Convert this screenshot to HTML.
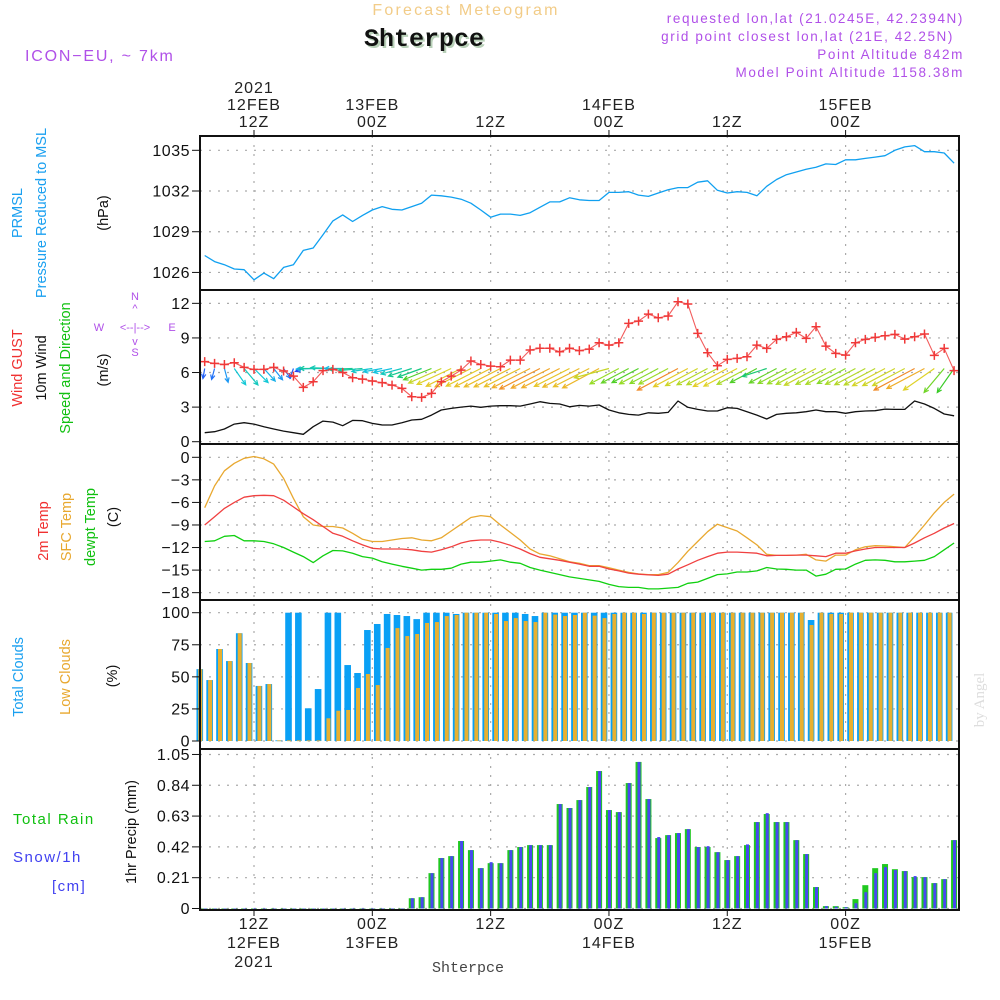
<!DOCTYPE html>
<html><head><meta charset="utf-8"><style>
html,body{margin:0;padding:0;background:#fff;}
svg{display:block;}
text{font-family:"Liberation Sans",sans-serif;}
</style></head><body>
<svg id="chart" width="1000" height="1000" viewBox="0 0 1000 1000" xmlns="http://www.w3.org/2000/svg">
<rect x="0" y="0" width="1000" height="1000" fill="#fff"/>
<text x="466" y="15" text-anchor="middle" font-size="16" fill="#f2cc88" letter-spacing="2.2">Forecast Meteogram</text>
<text x="426" y="48" text-anchor="middle" style="font-family:'Liberation Mono',monospace;font-weight:bold;font-size:25px" fill="#b8d0b8">Shterpce</text>
<text x="424" y="46" text-anchor="middle" style="font-family:'Liberation Mono',monospace;font-weight:bold;font-size:25px" fill="#111">Shterpce</text>
<text x="25" y="61" font-size="16" fill="#b050e8" letter-spacing="1.8">ICON−EU, ~ 7km</text>
<g font-size="13.5" fill="#b050e8" text-anchor="end" letter-spacing="1.6">
<text x="964" y="23">requested lon,lat (21.0245E, 42.2394N)</text>
<text x="954" y="41">grid point closest lon,lat (21E, 42.25N)</text>
<text x="964" y="59">Point Altitude 842m</text>
<text x="964" y="77">Model Point Altitude 1158.38m</text>
</g>
<g id="grid"></g>
<g id="marks"></g>
<g id="axes"></g>
<g font-size="14.5">
<text transform="translate(22,213) rotate(-90)" text-anchor="middle" fill="#1aa0f0">PRMSL</text>
<text transform="translate(46,213) rotate(-90)" text-anchor="middle" fill="#1aa0f0">Pressure Reduced to MSL</text>
<text transform="translate(108,213) rotate(-90)" text-anchor="middle" fill="#111">(hPa)</text>
<text transform="translate(22,368) rotate(-90)" text-anchor="middle" fill="#f03030">Wind GUST</text>
<text transform="translate(46,368) rotate(-90)" text-anchor="middle" fill="#111">10m Wind</text>
<text transform="translate(70,368) rotate(-90)" text-anchor="middle" fill="#10c010">Speed and Direction</text>
<text transform="translate(108,370) rotate(-90)" text-anchor="middle" fill="#111">(m/s)</text>
<text transform="translate(48,531) rotate(-90)" text-anchor="middle" fill="#f03030">2m Temp</text>
<text transform="translate(71,527) rotate(-90)" text-anchor="middle" fill="#e8a830">SFC Temp</text>
<text transform="translate(95,527) rotate(-90)" text-anchor="middle" fill="#10c010">dewpt Temp</text>
<text transform="translate(118,517) rotate(-90)" text-anchor="middle" fill="#111">(C)</text>
<text transform="translate(23,677) rotate(-90)" text-anchor="middle" fill="#1aa0f0">Total Clouds</text>
<text transform="translate(70,677) rotate(-90)" text-anchor="middle" fill="#e8a830">Low Clouds</text>
<text transform="translate(117,676) rotate(-90)" text-anchor="middle" fill="#111">(%)</text>
<text transform="translate(136,832) rotate(-90)" text-anchor="middle" fill="#111">1hr Precip (mm)</text>
</g>
<g font-size="15" letter-spacing="1.5">
<text x="13" y="824" fill="#10c010">Total  Rain</text>
<text x="13" y="862" fill="#4040f0">Snow/1h</text>
<text x="52" y="891" fill="#4040f0">[cm]</text>
</g>
<g font-size="11" fill="#b050e8" text-anchor="middle">
<text x="135" y="300">N</text>
<text x="135" y="312">^</text>
<text x="135" y="331">&lt;--|--&gt;</text>
<text x="99" y="331">W</text>
<text x="172" y="331">E</text>
<text x="135" y="345">v</text>
<text x="135" y="356">S</text>
</g>
<text transform="translate(984,700) rotate(-90)" text-anchor="middle" style="font-family:'Liberation Serif',serif;font-size:15px" fill="#dddddd">by Angel</text>
<text x="468" y="972" text-anchor="middle" style="font-family:'Liberation Mono',monospace;font-size:15px" fill="#444">Shterpce</text>
</svg>
<script>
const hourStart = -5;
const pressure = [1027.25,1026.8,1026.57,1026.25,1026.2,1025.46,1025.95,1025.54,1026.37,1026.57,1027.62,1027.8,1028.77,1029.8,1030.24,1029.75,1030.2,1030.6,1030.85,1030.65,1030.6,1030.85,1031.1,1031.7,1031.65,1031.55,1031.4,1031.1,1030.6,1030.07,1030.3,1030.3,1030.2,1030.4,1030.8,1031.2,1031.2,1031.5,1031.35,1031.3,
1031.3,1031.9,1031.9,1031.95,1031.7,1031.6,1031.85,1032.1,1032.25,1032.25,1032.65,1032.75,1032.05,1031.85,1031.95,1031.9,1031.65,1032.35,1032.85,1033.2,1033.4,1033.6,1033.75,1034,1033.95,1034.3,1034.3,1034.4,1034.5,1034.6,1035,1035.25,1035.35,1034.9,1034.9,1034.8,1034.05];
const windGust = [6.94,6.79,6.7,6.85,6.45,6.27,6.27,6.45,6.13,5.69,4.71,5.2,6.16,6.27,6.0,5.55,5.43,5.26,5.12,4.91,4.62,3.9,3.84,4.19,5.2,5.69,6.21,7.0,6.7,6.56,6.5,7.08,7.08,7.95,8.1,8.1,7.8,8.1,7.9,8.03,
8.58,8.38,8.58,10.26,10.46,11.07,10.75,10.9,12.14,11.94,9.39,7.72,6.59,7.14,7.23,7.37,8.38,8.09,8.87,9.1,9.48,8.96,9.97,8.29,7.66,7.51,8.58,8.87,9.05,9.19,9.31,8.9,9.1,9.34,7.49,8.09,6.16];
const wind10m = [0.78,0.87,1.1,1.53,1.65,1.53,1.3,1.1,0.92,0.78,0.64,1.3,1.79,1.7,1.39,1.85,1.82,1.59,1.45,1.45,1.65,1.88,1.94,2.31,2.75,2.89,3.0,3.09,2.98,3.09,3.12,3.12,3.09,3.27,3.47,3.32,3.27,3.03,3.15,3.09,
3.18,2.75,2.51,2.37,2.31,2.51,2.46,2.54,3.53,2.98,2.8,2.66,2.66,2.95,2.89,2.6,2.31,1.97,2.37,2.46,2.51,2.6,2.75,2.6,2.6,2.46,2.6,2.66,2.69,2.83,2.8,2.8,3.53,3.27,2.89,2.4,2.25];
const windDir = [10,15,345,325,320,315,318,322,325,20,70,88,90,92,90,88,85,82,80,78,75,72,70,68,66,65,63,63,63,63,63,63,63,63,63,63,63,63,63,63,
62,75,62,62,62,62,62,62,62,62,62,62,62,62,62,62,62,72,62,62,62,62,62,62,62,62,62,62,62,62,62,62,62,62,55,40,35];
const temp2m = [-9.0,-7.9,-6.8,-6.0,-5.3,-5.1,-5.05,-5.1,-5.7,-6.6,-7.5,-8.3,-9.2,-10.1,-10.5,-11.1,-11.65,-12.1,-12.2,-12.2,-12.2,-12.3,-12.5,-12.6,-12.3,-11.9,-11.4,-11.1,-11.0,-11.0,-11.3,-11.7,-12.2,-12.8,-13.3,-13.5,-13.7,-13.95,-14.2,-14.5,
-14.5,-14.85,-15.1,-15.4,-15.55,-15.64,-15.7,-15.55,-14.85,-14.3,-13.7,-13.2,-12.75,-12.6,-12.6,-12.67,-12.75,-13.1,-13.05,-13.05,-13.0,-13.0,-13.1,-13.2,-12.75,-12.75,-12.45,-12.2,-12.0,-12.0,-12.0,-12.0,-11.4,-10.7,-10.1,-9.4,-8.8];
const tempSfc = [-6.7,-3.8,-1.8,-0.8,-0.13,0.1,-0.2,-0.9,-2.8,-5.45,-7.9,-9.0,-9.2,-9.2,-9.4,-10.1,-10.9,-11.2,-11.2,-11.0,-10.8,-10.7,-11.0,-11.1,-10.7,-9.8,-8.9,-8.0,-7.75,-7.9,-9.0,-10.0,-11.0,-12.2,-12.85,-13.1,-13.5,-13.9,-14.1,-14.4,
-14.4,-14.7,-15.0,-15.3,-15.5,-15.6,-15.6,-15.3,-14.0,-12.5,-11.2,-9.9,-8.9,-9.35,-9.8,-10.7,-11.65,-12.9,-13.05,-13.05,-13.0,-12.9,-13.65,-13.8,-13.0,-13.0,-12.3,-11.9,-11.75,-11.8,-11.9,-12.0,-10.55,-9.0,-7.4,-6.0,-4.9];
const tempDew = [-11.2,-11.1,-10.5,-10.4,-11.1,-11.1,-11.2,-11.5,-12.0,-12.6,-13.2,-14.0,-13.1,-12.4,-12.45,-12.75,-13.2,-13.4,-13.9,-14.2,-14.5,-14.75,-15.0,-14.9,-14.9,-14.75,-14.2,-13.95,-13.95,-13.8,-13.65,-13.95,-14.1,-14.65,-15.0,-15.3,-15.6,-15.9,-16.1,-16.3,
-16.5,-16.9,-17.2,-17.3,-17.3,-17.5,-17.5,-17.4,-17.3,-16.75,-16.6,-16.1,-15.6,-15.5,-15.25,-15.25,-15.1,-14.65,-14.85,-14.9,-15.0,-15.0,-15.8,-15.55,-14.9,-14.85,-14.2,-13.7,-13.65,-13.7,-13.9,-13.9,-13.8,-13.7,-13.2,-12.3,-11.4];
const totalClouds = [56,47.5,71.7,62.3,84,60.8,42.9,44.4,0.5,100,100,25.5,40.5,100,100,59.2,53,86.5,91.2,99,98.2,97.4,95,100,100,100,99,100,100,100,100,100,100,99,97.4,100,100,100,100,100,
100,100,100,100,100,100,100,100,100,100,100,100,100,100,100,100,100,100,100,100,100,100,94.3,100,100,100,100,100,100,100,100,100,100,100,100,100,100];
const lowClouds = [56,47.5,71.7,62.3,84,60.8,42.9,44.4,0.5,0.5,0.5,0.5,0.5,17.7,23.6,24.2,41.3,52.2,43.6,72.5,88,81.8,83.4,92,92.7,97.4,98.2,100,100,100,99,93.5,95.8,93.5,92.7,100,98.5,97.4,98.2,100,
97.7,95.8,99,100,100,99,100,100,100,100,100,100,100,100,100,100,100,100,100,100,100,100,90.4,100,99,99,100,100,100,100,100,100,100,100,100,100,100];
const totalRain = [0,0,0,0,0,0,0,0,0,0,0,0,0,0,0,0,0,0,0,0,0,
0.07,0.077,0.241,0.344,0.357,0.46,0.398,0.275,0.309,0.309,0.398,0.419,0.432,0.432,0.432,0.712,0.685,0.739,0.828,0.937,0.671,0.657,0.855,0.999,0.746,0.48,0.5,0.514,0.541,0.419,0.419,0.384,0.33,0.357,0.432,0.589,0.644,0.589,0.589,0.466,0.371,0.146,0.016,0.016,0.009,0.064,0.159,0.275,0.303,0.268,0.255,0.214,0.214,0.173,0.2,0.466];
const snow1h = [0,0,0,0,0,0,0,0,0,0,0,0,0,0,0,0,0,0,0,0,0,
0.07,0.077,0.241,0.344,0.357,0.46,0.398,0.275,0.316,0.309,0.398,0.419,0.432,0.432,0.432,0.712,0.685,0.739,0.828,0.937,0.671,0.657,0.855,0.999,0.746,0.487,0.5,0.514,0.541,0.419,0.425,0.384,0.33,0.357,0.437,0.589,0.65,0.589,0.589,0.466,0.371,0.146,0.016,0.012,0.009,0.036,0.111,0.241,0.282,0.262,0.255,0.221,0.214,0.173,0.2,0.466];
const pressureTicks = [1026,1029,1032,1035];
const windTicks = [0,3,6,9,12];
const tempTicks = [0,-3,-6,-9,-12,-15,-18];
const cloudTicks = [0,25,50,75,100];
const precipTicks = ["0","0.21","0.42","0.63","0.84","1.05"];
const timeTickHours = [0,12,24,36,48,60];
const topLabels = [["2021","12FEB","12Z"],["","13FEB","00Z"],["","","12Z"],["","14FEB","00Z"],["","","12Z"],["","15FEB","00Z"]];
const bottomLabels = [["12Z","12FEB","2021"],["00Z","13FEB",""],["12Z","",""],["00Z","14FEB",""],["12Z","",""],["00Z","15FEB",""]];

const L=200, R=959;
const X = h => 254 + 9.86*h;
const yP = p => 150.3 + (1035-p)*13.57;
const yW = s => 441.7 - s*11.53;
const yT = t => 457.3 - t*7.52;
const yC = c => 741 - c*1.283;
const yR = r => 908.5 - r*146.7;
const NS='http://www.w3.org/2000/svg';
const grid=document.getElementById('grid'), marks=document.getElementById('marks'), axes=document.getElementById('axes');
function mk(parent,tag,attrs,txt){const e=document.createElementNS(NS,tag);for(const k in attrs)e.setAttribute(k,attrs[k]);if(txt!==undefined)e.textContent=txt;parent.appendChild(e);return e;}
const hours = pressure.map((_,i)=>hourStart+i);

const panels=[{ticks:pressureTicks,y:yP,lab:v=>String(v)},
{ticks:windTicks,y:yW,lab:v=>String(v)},
{ticks:tempTicks,y:yT,lab:v=>String(v).replace('-','\u2212')},
{ticks:cloudTicks,y:yC,lab:v=>String(v)},
{ticks:precipTicks,y:v=>yR(parseFloat(v)),lab:v=>v}];
panels.forEach(p=>{
  p.ticks.forEach(v=>{
    const y=p.y(v);
    const g=mk(grid,'line',{x1:L,x2:R,y1:y,y2:y,stroke:'#aaa','stroke-width':1.2,'stroke-dasharray':'2,7'});
    
    
    const tk=mk(axes,'line',{x1:L-8,x2:L,y1:y,y2:y,stroke:'#111','stroke-width':1});
    
    
    const t=mk(axes,'text',{x:L-10,y:y+5.5,'text-anchor':'end','font-size':16,fill:'#111','letter-spacing':'0.5'},p.lab(v));
    
    
  });
});
timeTickHours.forEach((h,i)=>{
  const x=X(h);
  const g=mk(grid,'line',{x1:x,x2:x,y1:136,y2:910,stroke:'#aaa','stroke-width':1.2,'stroke-dasharray':'2,7'});
  
  
  mk(axes,'line',{x1:x,x2:x,y1:130,y2:136,stroke:'#111','stroke-width':1});
  mk(axes,'line',{x1:x,x2:x,y1:910,y2:916,stroke:'#111','stroke-width':1});
  topLabels[i].forEach((s,j)=>{ if(!s)return;
    const t=mk(axes,'text',{x:x,y:93+j*17,'text-anchor':'middle','font-size':16,fill:'#222','letter-spacing':'1'},s);
    
    
  });
  bottomLabels[i].forEach((s,j)=>{ if(!s)return;
    const t=mk(axes,'text',{x:x,y:929+j*19,'text-anchor':'middle','font-size':16,fill:'#222','letter-spacing':'1'},s);
    
    
  });
});

hours.forEach((h,i)=>{
  const x=X(h-0.5);
  const b=mk(marks,'rect',{x:x-3.3,y:yC(totalClouds[i]),width:6.6,height:Math.max(0.8,yC(0)-yC(totalClouds[i])),fill:'#0aa0f5'});
  
  
  const o=mk(marks,'rect',{x:x-1.5,y:yC(lowClouds[i]),width:4,height:Math.max(0.8,yC(0)-yC(lowClouds[i])),fill:'#e8b030'});
  
  
});
hours.forEach((h,i)=>{
  const x=X(h);
  const g=mk(marks,'rect',{x:x-3,y:yR(totalRain[i]),width:6,height:Math.max(1.2,yR(0)-yR(totalRain[i])),fill:'#20c820'});
  
  
  const s=mk(marks,'rect',{x:x-1,y:yR(snow1h[i]),width:3,height:Math.max(1.2,yR(0)-yR(snow1h[i])),fill:'#4848f0'});
  
  
});
function line(arr,yf,color,name,w){
  const d=arr.map((v,i)=>(i?'L':'M')+X(hours[i]).toFixed(1)+','+yf(v).toFixed(1)).join('');
  const p=mk(marks,'path',{d:d,fill:'none',stroke:color,'stroke-width':w||1.3,'stroke-linejoin':'round'});
  
  
}
line(pressure,yP,'#10a0f0','pressure-line');
line(wind10m,yW,'#111','wind-10m-line');
line(tempSfc,yT,'#e8a830','sfc-temp-line');
line(temp2m,yT,'#f04040','temp-2m-line');
line(tempDew,yT,'#10d010','dewpoint-line');

function spdColor(s){
  const stops=[[0.5,[40,40,240]],[1.0,[30,140,250]],[1.5,[20,200,220]],[1.9,[20,200,140]],[2.2,[40,200,40]],[2.5,[150,220,40]],[2.9,[225,210,40]],[3.3,[240,170,40]],[3.6,[240,130,40]]];
  if(s<=stops[0][0])return 'rgb('+stops[0][1]+')';
  for(let k=1;k<stops.length;k++){if(s<=stops[k][0]){const a=stops[k-1],b=stops[k],f=(s-a[0])/(b[0]-a[0]);return 'rgb('+a[1].map((c,j)=>Math.round(c+(b[1][j]-c)*f)).join(',')+')';}}
  return 'rgb('+stops[stops.length-1][1]+')';
}
hours.forEach((h,i)=>{
  const s=wind10m[i], dir=windDir[i]*Math.PI/180;
  const len=s*13;
  const dx=-Math.sin(dir), dy=Math.cos(dir);
  const x0=X(h), y0=368.5, x1=x0+dx*len, y1=y0+dy*len;
  const c=spdColor(s);
  const a1=Math.atan2(dy,dx);
  const hl=5;
  const hx1=x1-hl*Math.cos(a1-0.45), hy1=y1-hl*Math.sin(a1-0.45);
  const hx2=x1-hl*Math.cos(a1+0.45), hy2=y1-hl*Math.sin(a1+0.45);
  const ar=mk(marks,'path',{d:'M'+x0+','+y0+'L'+x1+','+y1+'M'+hx1+','+hy1+'L'+x1+','+y1+'L'+hx2+','+hy2,fill:'none',stroke:c,'stroke-width':1.2});
  
  
});
(function(){
  const d=windGust.map((v,i)=>(i?'L':'M')+X(hours[i]).toFixed(1)+','+yW(v).toFixed(1)).join('');
  const p=mk(marks,'path',{d:d,fill:'none',stroke:'#f04040','stroke-width':1.1,opacity:0.85});
  
  
  windGust.forEach((v,i)=>{
    const x=X(hours[i]), y=yW(v);
    const m=mk(marks,'path',{d:'M'+(x-4.5)+','+y+'L'+(x+4.5)+','+y+'M'+x+','+(y-4.5)+'L'+x+','+(y+4.5),stroke:'#f03838','stroke-width':1.5});
    
    
  });
})();
[136,290,444,600,749,910].forEach(y=>{mk(axes,'line',{x1:L-1,x2:R+1,y1:y,y2:y,stroke:'#111','stroke-width':2});});
mk(axes,'line',{x1:L,x2:L,y1:136,y2:910,stroke:'#111','stroke-width':2});
mk(axes,'line',{x1:R,x2:R,y1:136,y2:910,stroke:'#111','stroke-width':2});
</script>
</body></html>
